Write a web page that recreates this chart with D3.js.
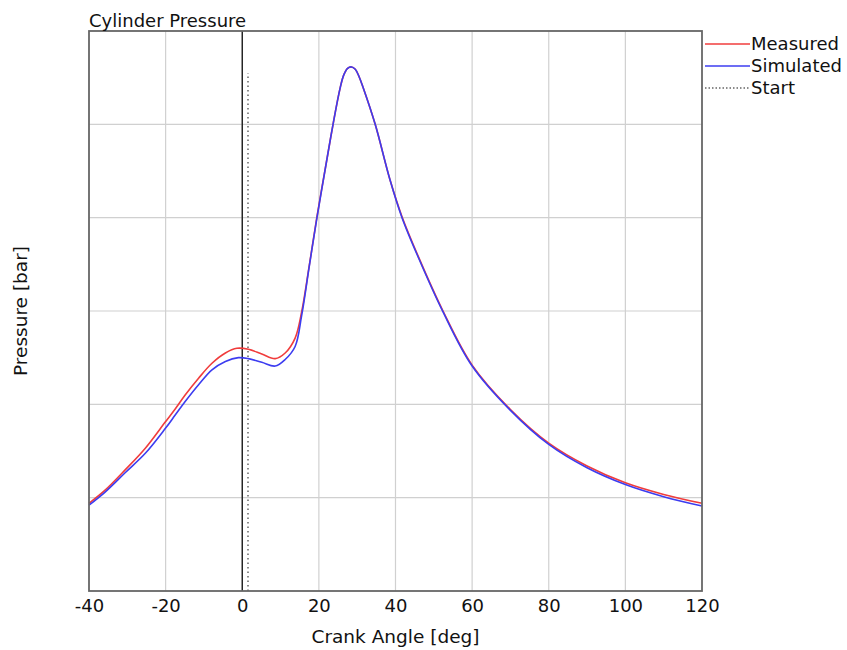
<!DOCTYPE html>
<html>
<head>
<meta charset="utf-8">
<script src="https://cdn.jsdelivr.net/npm/d3@7"></script>
<style>
  body { margin: 0; background: #fff; }
  text { font-family: "DejaVu Sans", sans-serif; fill: #111; }
</style>
</head>
<body>
<script>
// crank angle [deg] / pressure [bar]
const measuredAngle = [-40, -35.8, -30.5, -25.3, -20.1, -17.5, -14.9, -11.4, -7.9, -4.4, -1.4, 1.6, 5.1, 8.6, 11.2, 13.8, 15.5, 17.5, 19.5, 22.2, 23.7, 25.5, 26.5, 27.5, 28.5, 29.5, 30.5, 31.5, 34.7, 38.6, 41.7, 46, 52.4, 60, 70, 80, 90, 100, 110, 120];
const measuredP = [9.4, 10.8, 13.0, 15.3, 18.1, 19.5, 21.0, 22.8, 24.4, 25.5, 26.0, 25.9, 25.4, 24.9, 25.5, 27.1, 29.9, 34.9, 40.1, 46.5, 50.0, 53.8, 55.3, 56.0, 56.15, 55.9, 55.1, 54.0, 50.0, 44.0, 40.1, 35.8, 30.0, 24.2, 19.45, 15.85, 13.4, 11.6, 10.35, 9.4];

const simulatedAngle = [-40, -35.8, -30.5, -25.3, -20.1, -17.5, -14.9, -11.4, -7.9, -4.4, -1, 1.6, 5.1, 8.6, 11.2, 13.8, 15.5, 17.5, 19.5, 22.2, 23.7, 25.5, 26.5, 27.5, 28.5, 29.5, 30.5, 31.5, 34.7, 38.6, 41.7, 46, 52.4, 60, 70, 80, 90, 100, 110, 120];
const simulatedP = [9.2, 10.6, 12.7, 14.75, 17.4, 18.85, 20.3, 22.1, 23.7, 24.6, 25.0, 24.9, 24.5, 24.1, 24.8, 26.2, 29.5, 34.8, 40.0, 46.5, 50.0, 53.8, 55.3, 56.0, 56.15, 55.9, 55.1, 54.0, 50.0, 44.0, 40.0, 35.7, 29.9, 24.1, 19.35, 15.7, 13.2, 11.4, 10.1, 9.1];

const startAngle = 1.5;
const startTop = 55.5;
const xTicks = [-40, -20, 0, 20, 40, 60, 80, 100, 120];
const yGrid = [10, 20, 30, 40, 50];

const width = 847, height = 650;
const margin = {top: 31, right: 145, bottom: 59, left: 89};

const svg = d3.select("body").append("svg")
    .attr("width", width)
    .attr("height", height);

const x = d3.scaleLinear().domain([-40, 120]).range([margin.left, width - margin.right]);
const y = d3.scaleLinear().domain([0, 60]).range([height - margin.bottom, margin.top]);

// grid
svg.append("g")
    .selectAll("line")
    .data(xTicks.slice(1, -1))
    .join("line")
    .attr("x1", d => x(d)).attr("x2", d => x(d))
    .attr("y1", y(0)).attr("y2", y(60))
    .attr("stroke", "#d0d0d0").attr("stroke-width", 1.2);

svg.append("g")
    .selectAll("line")
    .data(yGrid)
    .join("line")
    .attr("x1", x(-40)).attr("x2", x(120))
    .attr("y1", d => y(d)).attr("y2", d => y(d))
    .attr("stroke", "#d0d0d0").attr("stroke-width", 1.2);

// TDC line and start marker
svg.append("line")
    .attr("x1", x(0)).attr("x2", x(0))
    .attr("y1", y(0)).attr("y2", y(60))
    .attr("stroke", "#111").attr("stroke-width", 1.3);

svg.append("line")
    .attr("x1", x(startAngle)).attr("x2", x(startAngle))
    .attr("y1", y(0)).attr("y2", y(startTop))
    .attr("stroke", "#666").attr("stroke-width", 1.5)
    .attr("stroke-dasharray", "1.5,3");

const line = d3.line().curve(d3.curveCatmullRom.alpha(0.5));

svg.append("path")
    .attr("d", line(measuredAngle.map((a, i) => [x(a), y(measuredP[i])])))
    .attr("fill", "none").attr("stroke", "#f03c3c").attr("stroke-width", 1.6);

svg.append("path")
    .attr("d", line(simulatedAngle.map((a, i) => [x(a), y(simulatedP[i])])))
    .attr("fill", "none").attr("stroke", "#3c3cf0").attr("stroke-width", 1.6);

// frame
svg.append("rect")
    .attr("x", x(-40)).attr("y", y(60))
    .attr("width", x(120) - x(-40)).attr("height", y(0) - y(60))
    .attr("fill", "none").attr("stroke", "#666").attr("stroke-width", 1.8);

// x axis labels
const xAxis = svg.append("g")
    .attr("transform", `translate(0,${y(0)})`)
    .call(d3.axisBottom(x).tickValues(xTicks).tickSize(0).tickPadding(8)
        .tickFormat(d => d < 0 ? "-" + Math.abs(d) : d));
xAxis.select(".domain").remove();
xAxis.selectAll("text").style("font-size", "18px").style("font-family", "DejaVu Sans, sans-serif").attr("fill", "#111");

svg.append("text")
    .attr("x", (x(-40) + x(120)) / 2)
    .attr("y", 643)
    .attr("text-anchor", "middle")
    .style("font-size", "18.5px")
    .text("Crank Angle [deg]");

svg.append("text")
    .attr("transform", `translate(27,${(y(0) + y(60)) / 2}) rotate(-90)`)
    .attr("text-anchor", "middle")
    .style("font-size", "18.5px")
    .text("Pressure [bar]");

svg.append("text")
    .attr("x", 89).attr("y", 27)
    .style("font-size", "18px")
    .text("Cylinder Pressure");

// legend
const legend = [
    {name: "Measured", color: "#f03c3c", dash: null},
    {name: "Simulated", color: "#3c3cf0", dash: null},
    {name: "Start", color: "#666", dash: "1.5,2"}
];
const lg = svg.append("g").selectAll("g").data(legend).join("g")
    .attr("transform", (d, i) => `translate(705,${44 + i * 22})`);
lg.append("line")
    .attr("x1", 0).attr("x2", 45)
    .attr("stroke", d => d.color).attr("stroke-width", 1.4)
    .attr("stroke-dasharray", d => d.dash);
lg.append("text")
    .attr("x", 46).attr("y", 0).attr("dy", "0.35em")
    .style("font-size", "18px")
    .text(d => d.name);
</script>
</body>
</html>
